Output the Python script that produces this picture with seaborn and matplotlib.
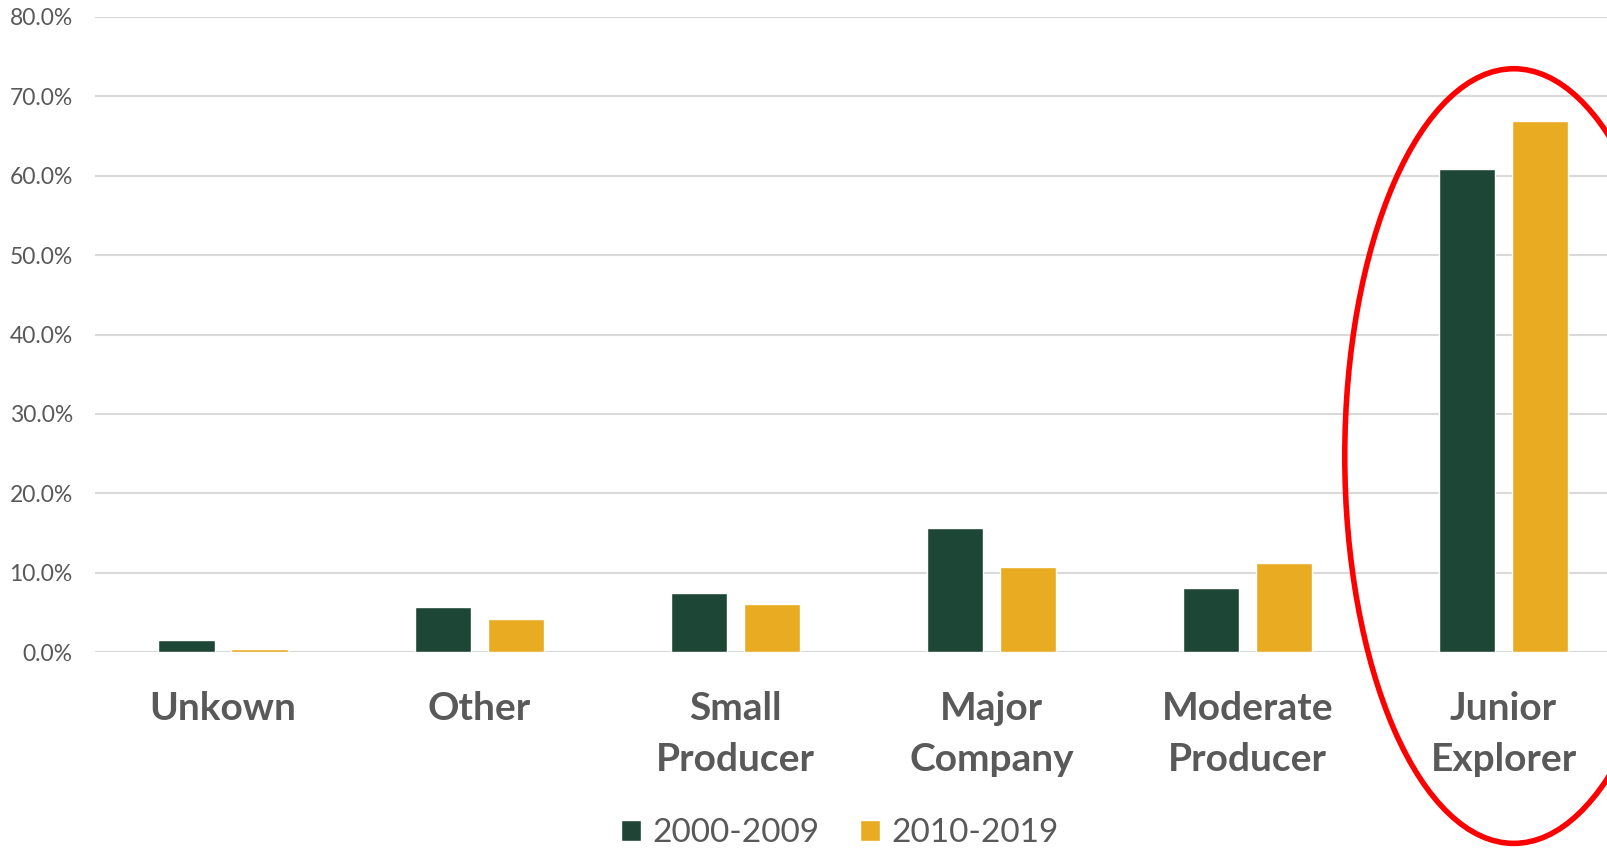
import matplotlib.pyplot as plt
from matplotlib.patches import Ellipse
from matplotlib.ticker import FuncFormatter
import pandas as pd
import seaborn as sns

# Données
categories = ["Unkown", "Other", "Small\nProducer", "Major\nCompany", "Moderate\nProducer", "Junior\nExplorer"]
periods = ["2000-2009", "2010-2019"]
share_2000s = [1.5, 5.7, 7.5, 15.7, 8.1, 60.8]
share_2010s = [0.4, 4.2, 6.1, 10.7, 11.2, 66.9]
y_ticks = [0, 10, 20, 30, 40, 50, 60, 70, 80]

df = pd.DataFrame({
    "category": categories * 2,
    "period": [periods[0]] * len(categories) + [periods[1]] * len(categories),
    "share": share_2000s + share_2010s,
})

green = "#1E4636"
gold = "#E9AB21"
grey_txt = "#595959"

sns.set_style("white")
plt.rcParams['font.family'] = ['Lato', 'DejaVu Sans']

fig = plt.figure(figsize=(16.08, 8.49), dpi=100)
ax = fig.add_axes([95 / 1608, 1 - 652.3 / 849, 1 - 95 / 1608, (652.3 - 16.7) / 849])

sns.barplot(data=df, x="category", y="share", hue="period", order=categories,
            hue_order=periods, palette=[green, gold], width=0.57, gap=0.23,
            saturation=1, ax=ax, zorder=3)

# axes
ax.set_ylim(0, 80)
ax.set_xlim(-0.5, (1608 - 95.6) / 256 - 0.5)
ax.set_yticks(y_ticks)
ax.yaxis.set_major_formatter(FuncFormatter(lambda v, p: f"{v:.1f}%"))
ax.grid(axis="y", color="#D9D9D9", linewidth=1.5, zorder=0)
for s in ax.spines.values():
    s.set_visible(False)
ax.tick_params(axis="y", length=0, pad=16, labelsize=16.5, labelcolor=grey_txt)
ax.tick_params(axis="x", length=0, pad=28, labelcolor=grey_txt)
for lbl in ax.get_xticklabels():
    lbl.set_fontsize(28)
    lbl.set_fontweight("bold")
    lbl.set_linespacing(1.55)
ax.set_xlabel("")
ax.set_ylabel("")

# légende en bas
ax.legend(loc="center", bbox_to_anchor=(840 / 1608, 1 - 833 / 849),
          bbox_transform=fig.transFigure, ncol=2, frameon=False,
          fontsize=24, labelcolor=grey_txt, handlelength=0.6, handleheight=0.6,
          handletextpad=0.35, columnspacing=1.2)

# ellipse rouge autour de Junior Explorer
ell = Ellipse((5.04, 24.7), 1.32, 97.5, fill=False, edgecolor="red", linewidth=4,
              clip_on=False, zorder=5)
ax.add_patch(ell)

fig.savefig("out.png", dpi=100)
